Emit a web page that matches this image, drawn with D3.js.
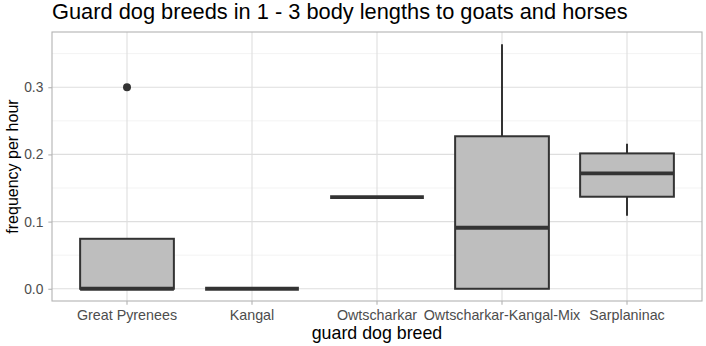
<!DOCTYPE html>
<html>
<head>
<meta charset="utf-8">
<script src="https://cdn.jsdelivr.net/npm/d3@7"></script>
<style>
body { margin: 0; background: #fff; }
text { font-family: "Liberation Sans", Arial, sans-serif; }
</style>
</head>
<body>
<div id="chart"></div>
<script>
"use strict";

var breeds = ["Great Pyrenees", "Kangal", "Owtscharkar", "Owtscharkar-Kangal-Mix", "Sarplaninac"];
var whiskerLow  = [0, 0, 0.1365, 0, 0.1086];
var q1          = [0, 0, 0.1365, 0, 0.137];
var median      = [0, 0, 0.1365, 0.0908, 0.1717];
var q3          = [0.0744, 0, 0.1365, 0.227, 0.2015];
var whiskerHigh = [0.0744, 0, 0.1365, 0.364, 0.2158];
var outliers    = [[0.3], [], [], [], []];
var yTicks = [0, 0.1, 0.2, 0.3];
var yMinor = [0.05, 0.15, 0.25, 0.35];

var width = 706, height = 346;
var margin = {top: 32, right: 4, bottom: 45, left: 52};

var svg = d3.select("#chart").append("svg")
	.attr("width", width)
	.attr("height", height);

var x = d3.scaleBand()
	.domain(breeds)
	.range([margin.left, width - margin.right])
	.paddingOuter(0.1)
	.paddingInner(0);

var y = d3.scaleLinear()
	.domain([-0.0182, 0.3822])
	.range([height - margin.bottom, margin.top]);

var cx = function(i) { return x(breeds[i]) + x.bandwidth() / 2; };
var boxW = x.bandwidth() * 0.75;

// grid
svg.append("g").selectAll("line.minor")
	.data(yMinor).enter().append("line")
	.attr("x1", margin.left).attr("x2", width - margin.right)
	.attr("y1", function(d) { return y(d); }).attr("y2", function(d) { return y(d); })
	.attr("stroke", "#EBEBEB").attr("stroke-width", 0.6);

svg.append("g").selectAll("line.major")
	.data(yTicks).enter().append("line")
	.attr("x1", margin.left).attr("x2", width - margin.right)
	.attr("y1", function(d) { return y(d); }).attr("y2", function(d) { return y(d); })
	.attr("stroke", "#DEDEDE").attr("stroke-width", 1.1);

svg.append("g").selectAll("line.vmajor")
	.data(breeds).enter().append("line")
	.attr("x1", function(d, i) { return cx(i); }).attr("x2", function(d, i) { return cx(i); })
	.attr("y1", margin.top).attr("y2", height - margin.bottom)
	.attr("stroke", "#DEDEDE").attr("stroke-width", 1.1);

// boxes
var g = svg.append("g");
breeds.forEach(function(b, i) {
	var c = cx(i);
	g.append("line")
		.attr("x1", c).attr("x2", c)
		.attr("y1", y(q3[i])).attr("y2", y(whiskerHigh[i]))
		.attr("stroke", "#333333").attr("stroke-width", 2);
	g.append("line")
		.attr("x1", c).attr("x2", c)
		.attr("y1", y(q1[i])).attr("y2", y(whiskerLow[i]))
		.attr("stroke", "#333333").attr("stroke-width", 2);
	g.append("rect")
		.attr("x", c - boxW / 2).attr("width", boxW)
		.attr("y", y(q3[i])).attr("height", y(q1[i]) - y(q3[i]))
		.attr("fill", "#BEBEBE").attr("stroke", "#333333").attr("stroke-width", 2);
	g.append("line")
		.attr("x1", c - boxW / 2).attr("x2", c + boxW / 2)
		.attr("y1", y(median[i])).attr("y2", y(median[i]))
		.attr("stroke", "#333333").attr("stroke-width", 3.8);
	outliers[i].forEach(function(v) {
		g.append("circle")
			.attr("cx", c).attr("cy", y(v)).attr("r", 4)
			.attr("fill", "#333333");
	});
});

// panel border
svg.append("rect")
	.attr("x", margin.left).attr("y", margin.top)
	.attr("width", width - margin.right - margin.left)
	.attr("height", height - margin.bottom - margin.top)
	.attr("fill", "none").attr("stroke", "#B3B3B3").attr("stroke-width", 1.1);

// axes
var yAxis = svg.append("g")
	.attr("transform", "translate(" + margin.left + ",0)")
	.call(d3.axisLeft(y).tickValues(yTicks).tickFormat(d3.format(".1f")).tickSize(3.7).tickPadding(5));
var xAxis = svg.append("g")
	.attr("transform", "translate(0," + (height - margin.bottom) + ")")
	.call(d3.axisBottom(x).tickSize(3.7).tickPadding(5));

[xAxis, yAxis].forEach(function(a) {
	a.select(".domain").remove();
	a.selectAll(".tick line").attr("stroke", "#B3B3B3").attr("stroke-width", 1.1);
	a.selectAll(".tick text").attr("fill", "#4D4D4D")
		.style("font-family", "'Liberation Sans', Arial, sans-serif");
});
xAxis.selectAll(".tick text").style("font-size", "14.3px");
yAxis.selectAll(".tick text").style("font-size", "13.8px");

// titles
svg.append("text")
	.attr("x", margin.left).attr("y", 19)
	.style("font-size", "21.8px").attr("fill", "#000")
	.text("Guard dog breeds in 1 - 3 body lengths to goats and horses");

svg.append("text")
	.attr("x", (margin.left + width - margin.right) / 2).attr("y", 339)
	.attr("text-anchor", "middle")
	.style("font-size", "17.8px").attr("fill", "#000")
	.text("guard dog breed");

svg.append("text")
	.attr("transform", "translate(18," + ((margin.top + height - margin.bottom) / 2) + ") rotate(-90)")
	.attr("text-anchor", "middle")
	.style("font-size", "16px").attr("fill", "#000")
	.text("frequency per hour");
</script>
</body>
</html>
